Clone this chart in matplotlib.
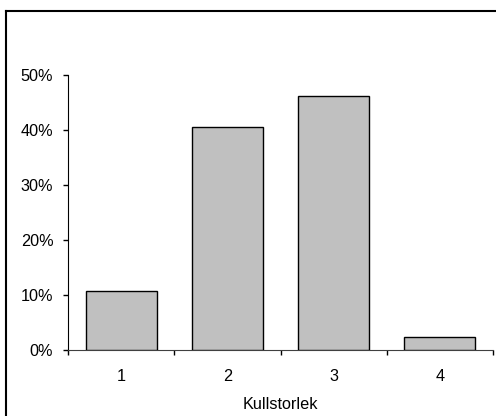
import matplotlib.pyplot as plt
from matplotlib.lines import Line2D
from matplotlib.ticker import FuncFormatter

plt.rcParams['font.family'] = ['Liberation Sans', 'DejaVu Sans']

# andel kullar per kullstorlek
kullstorlek = ['1', '2', '3', '4']
andel = [10.7, 40.6, 46.2, 2.4]

fig = plt.figure(figsize=(4.96, 4.16), dpi=100)
ax = fig.add_axes([68 / 496, 1 - 350 / 416, 425 / 496, 275 / 416])

x = list(range(1, len(kullstorlek) + 1))
ax.bar(x, andel, width=0.667, color='#c0c0c0', edgecolor='black', linewidth=1, zorder=3)

fs = 11.7
ax.set_xlim(0.5, 4.5)
ax.set_ylim(0, 50)
ax.set_yticks(range(0, 51, 10))
ax.yaxis.set_major_formatter(FuncFormatter(lambda v, p: f'{v:.0f}%'))

ax.set_xticks(x)
ax.set_xticklabels(kullstorlek)
ax.set_xticks([0.5, 1.5, 2.5, 3.5, 4.5], minor=True)
ax.tick_params(axis='x', which='major', length=0, pad=14, labelsize=fs)
ax.tick_params(axis='x', which='minor', length=3.6, width=1, direction='out')
ax.tick_params(axis='y', length=3.6, width=1, direction='out', pad=7, labelsize=fs)

for s in ['top', 'right']:
    ax.spines[s].set_visible(False)
ax.spines['left'].set_color('black')
ax.spines['bottom'].set_color('#404040')

ax.set_xlabel('Kullstorlek', fontsize=fs, va='center')
ax.xaxis.set_label_coords(0.5, -0.198)

# ram runt diagrammet
fig.add_artist(Line2D([6 / 496, 1.0], [1 - 11 / 416] * 2, color='black', lw=1.5))
fig.add_artist(Line2D([6 / 496] * 2, [0.0, 1 - 11 / 416], color='black', lw=1.5))

fig.savefig('out.png', dpi=100)
